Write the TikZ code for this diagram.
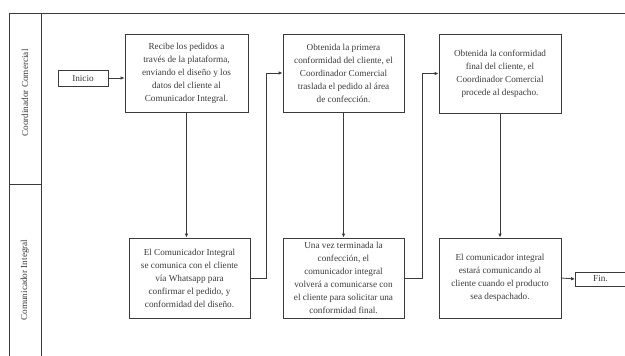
\documentclass[tikz,border=0pt]{standalone}
\usepackage{fontspec}
\setmainfont{Liberation Serif}
\usetikzlibrary{arrows.meta}
\definecolor{ink}{HTML}{3A3A3A}
\begin{document}
\begin{tikzpicture}[x=1pt,y=-1pt,
  every node/.style={text=ink},
  proc/.style={draw=ink,line width=0.8pt,align=center,inner sep=2pt,
    font=\fontsize{9.2}{13}\selectfont},
  term/.style={draw=ink,line width=0.8pt,inner sep=1pt,
    font=\fontsize{9.2}{11}\selectfont},
  lane/.style={rotate=90,font=\fontsize{9.2}{11}\selectfont},
  flow/.style={draw=ink,line width=0.8pt,-{Latex[length=4pt,width=3.5pt]}},
  frame/.style={draw=ink,line width=0.9pt}]
\useasboundingbox (0,0) rectangle (625,356);

% pool frame and lanes
\draw[frame] (625,13) -- (9,13) -- (9,356);
\draw[frame] (41,13) -- (41,356);
\draw[frame] (9,184) -- (41,184);
\node[lane] (laneA) at (25,93) {Coordinador Comercial};
\node[lane] (laneB) at (25,280) {Comunicador Integral};

% terminals
\node[term,minimum width=50pt,minimum height=16pt] (ini) at (83,78) {Inicio};
\node[term,minimum width=50pt,minimum height=14pt] (fin) at (600.5,279) {Fin.};

% process steps, top lane
\node[proc,minimum width=123pt,minimum height=78pt] (b1) at (186.5,73)
  {Recibe los pedidos a\\través de la plataforma,\\enviando el diseño y los\\datos del cliente al\\Comunicador Integral.};
\node[proc,minimum width=121pt,minimum height=78pt] (b2) at (343.5,73)
  {Obtenida la primera\\conformidad del cliente, el\\Coordinador Comercial\\traslada el pedido al área\\de confección.};
\node[proc,minimum width=122pt,minimum height=79pt] (b3) at (500,73.5)
  {Obtenida la conformidad\\final del cliente, el\\Coordinador Comercial\\procede al despacho.};

% process steps, bottom lane
\node[proc,minimum width=121pt,minimum height=80pt] (b4) at (189.5,278)
  {El Comunicador Integral\\se comunica con el cliente\\vía Whatsapp para\\confirmar el pedido, y\\conformidad del diseño.};
\node[proc,minimum width=121pt,minimum height=80pt] (b5) at (343.5,278)
  {Una vez terminada la\\confección, el\\comunicador integral\\volverá a comunicarse con\\el cliente para solicitar una\\conformidad final.};
\node[proc,minimum width=122pt,minimum height=80pt] (b6) at (500,278)
  {El comunicador integral\\estará comunicando al\\cliente cuando el producto\\sea despachado.};

% connectors
\draw[flow] (ini.east) -- (ini.east -| b1.west);
\draw[flow] (b1.south) -- (b1.south |- b4.north);
\draw[flow] (b4.east) -- ++(16,0) |- (b2.west);
\draw[flow] (b2.south) -- (b5.north);
\draw[flow] (b5.east) -- ++(18,0) |- (b3.west);
\draw[flow] (b3.south) -- (b6.north);
\draw[flow] (b6.east) -- (fin.west);
\end{tikzpicture}
\end{document}
